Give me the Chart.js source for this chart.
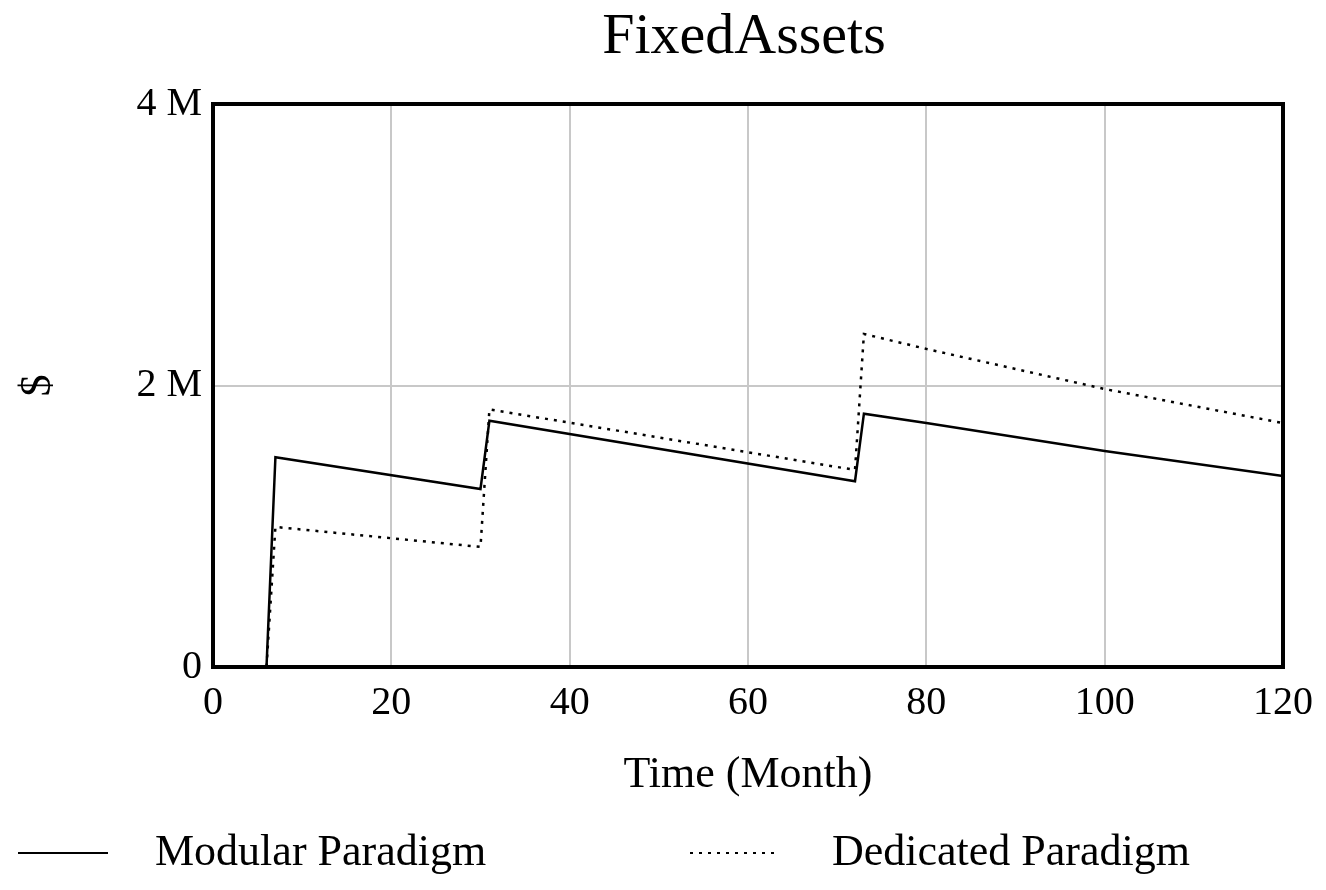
<!DOCTYPE html>
<html>
<head>
<meta charset="utf-8">
<script src="https://cdn.jsdelivr.net/npm/chart.js@4"></script>
<style>
  html, body { margin: 0; padding: 0; background: #fff; }
  #wrap { width: 1326px; height: 890px; }
</style>
</head>
<body>
<div id="wrap"><canvas id="myChart" width="1326" height="890"></canvas></div>
<script>
// values (month, $)
const modularMonths = [0, 6, 7, 30, 31, 72, 73, 80, 100, 120];
const modularValues = [0, 0, 1490000, 1265000, 1750000, 1320000, 1800000, 1733000, 1535000, 1357000];
const dedicatedMonths = [0, 6, 7, 30, 31, 72, 73, 80, 100, 120];
const dedicatedValues = [0, 0, 995000, 853000, 1830000, 1400000, 2366000, 2260000, 1975000, 1733000];
const xTicks = [0, 20, 40, 60, 80, 100, 120];
const yTicks = [0, 2000000, 4000000];
const seriesNames = ["Modular Paradigm", "Dedicated Paradigm"];

const font = "'Liberation Serif', 'DejaVu Serif', serif";

function pts(xs, ys) {
  return xs.map((x, i) => ({ x: x, y: ys[i] }));
}

const frameAndText = {
  id: "frameAndText",
  afterDraw(chart) {
    const c = chart.ctx;
    const a = chart.chartArea;
    c.save();
    c.strokeStyle = "#000";
    c.lineWidth = 4;
    c.strokeRect(a.left, a.top, a.right - a.left, a.bottom - a.top);
    c.fillStyle = "#000";
    c.font = "58px " + font;
    c.textAlign = "center";
    c.textBaseline = "middle";
    c.fillText("FixedAssets", 744, 38);
    // legend
    c.font = "44px " + font;
    c.textAlign = "left";
    c.lineWidth = 2;
    c.beginPath();
    c.moveTo(18, 853);
    c.lineTo(108, 853);
    c.stroke();
    c.fillText(seriesNames[0], 155, 853);
    c.setLineDash([3, 6]);
    c.beginPath();
    c.moveTo(690, 853);
    c.lineTo(780, 853);
    c.stroke();
    c.fillText(seriesNames[1], 832, 853);
    c.restore();
  }
};

new Chart(document.getElementById("myChart"), {
  type: "line",
  data: {
    datasets: [
      {
        label: seriesNames[0],
        data: pts(modularMonths, modularValues),
        borderColor: "#000",
        borderWidth: 2.5,
        pointRadius: 0,
        tension: 0,
      },
      {
        label: seriesNames[1],
        data: pts(dedicatedMonths, dedicatedValues),
        borderColor: "#000",
        borderWidth: 2.5,
        borderDash: [3, 6],
        pointRadius: 0,
        tension: 0,
      },
    ],
  },
  options: {
    responsive: false,
    animation: false,
    layout: { padding: { top: 104, right: 43, bottom: 86, left: 0 } },
    plugins: {
      legend: { display: false },
      title: { display: false },
      tooltip: { enabled: false },
    },
    scales: {
      x: {
        type: "linear",
        min: 0,
        max: 120,
        afterBuildTicks: (s) => { s.ticks = xTicks.map((v) => ({ value: v })); },
        afterFit: (s) => { s.height = 137; },
        ticks: { color: "#000", font: { family: font, size: 40 }, padding: 12, maxRotation: 0 },
        grid: { color: "#c8c8c8", lineWidth: 2, drawTicks: false },
        border: { display: false },
        title: { display: true, text: "Time (Month)", color: "#000", font: { family: font, size: 44 }, padding: { top: 0, bottom: 2 } },
      },
      y: {
        min: 0,
        max: 4000000,
        afterBuildTicks: (s) => { s.ticks = yTicks.map((v) => ({ value: v })); },
        afterFit: (s) => { s.width = 213; },
        ticks: {
          color: "#000",
          font: { family: font, size: 40 },
          padding: 11,
          callback: (v) => (v === 0 ? "0" : v / 1000000 + " M"),
        },
        grid: { color: "#c8c8c8", lineWidth: 2, drawTicks: false },
        border: { display: false },
        title: { display: true, text: "$", color: "#000", font: { family: font, size: 44 }, padding: { top: 12, bottom: 0 } },
      },
    },
  },
  plugins: [frameAndText],
});
</script>
</body>
</html>
